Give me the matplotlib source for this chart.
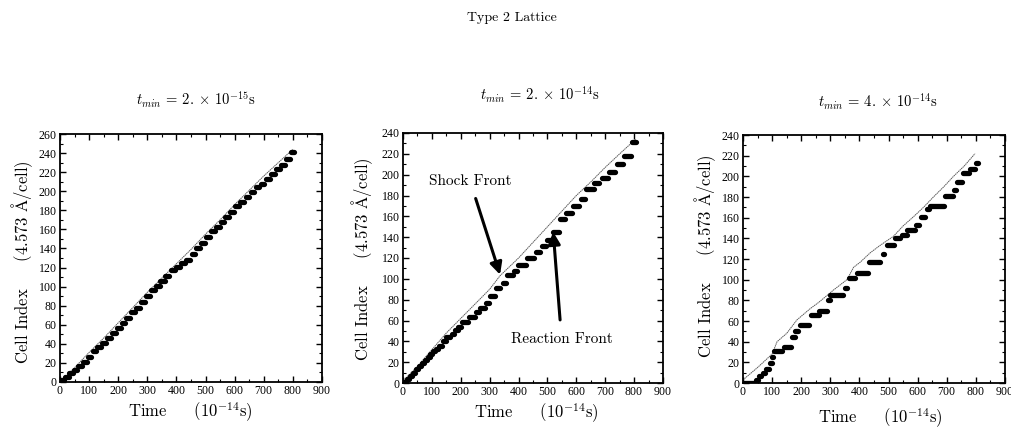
import matplotlib
matplotlib.use("Agg")
import matplotlib.pyplot as plt
from matplotlib.ticker import MultipleLocator

plt.rcParams['font.family'] = 'cmr10'
plt.rcParams['mathtext.fontset'] = 'cm'
plt.rcParams['axes.formatter.use_mathtext'] = True

# shock front: (time, cell)
shock1_t = [0, 50, 100, 150, 200, 250, 300, 350, 400, 450, 500, 550, 600, 650, 700, 750, 800]
shock1_y = [0, 15, 31, 46, 62, 78, 94, 109, 124, 139, 155, 170, 186, 201, 216, 230, 244]

shock2_t = [0, 50, 100, 150, 200, 250, 300, 336, 400, 450, 500, 550, 600, 650, 700, 750, 805]
shock2_y = [2, 16, 32, 48, 62, 76, 90, 103, 120, 135, 150, 165, 180, 193, 207, 220, 234]

shock3_t = [0, 50, 100, 117, 150, 185, 231, 260, 311, 357, 380, 403, 437, 470, 517, 550, 586,
            620, 654, 690, 723, 760, 797]
shock3_y = [3, 15, 28, 40, 48, 61, 72, 78, 90, 100, 112, 117, 126, 133, 142, 152, 161,
            170, 180, 190, 200, 210, 222]

# reaction front: cell index held from t_start to t_end
react1_t0 = [5, 18, 32, 48, 62, 80, 95, 112, 128, 145, 160, 178, 195, 212, 228, 245, 262, 278,
             295, 312, 330, 345, 362, 380, 398, 415, 432, 452, 468, 485, 502, 518, 535, 552,
             568, 585, 602, 620, 638, 655, 672, 690, 708, 725, 742, 760, 778, 795]
react1_t1 = [15, 30, 45, 60, 75, 92, 108, 125, 142, 158, 175, 192, 208, 225, 242, 258, 275, 292,
             308, 325, 342, 360, 375, 395, 412, 430, 448, 465, 482, 498, 515, 532, 548, 565,
             582, 598, 615, 632, 650, 668, 685, 702, 720, 738, 755, 772, 790, 803]
react1_y = [2, 5, 9, 13, 17, 21, 26, 32, 37, 41, 46, 51, 57, 62, 67, 73, 78, 84,
            90, 96, 101, 106, 111, 117, 121, 125, 128, 134, 140, 146, 152, 158, 163, 168,
            173, 178, 184, 189, 194, 199, 204, 208, 213, 218, 223, 228, 234, 241]

react2_t0 = [5, 15, 25, 35, 45, 55, 65, 75, 85, 95, 105, 115, 125, 138, 150, 168, 180, 192,
             205, 230, 252, 265, 288, 300, 322, 345, 360, 385, 398, 430, 460, 480, 500, 520,
             545, 565, 590, 615, 635, 660, 690, 712, 740, 765, 792]
react2_t1 = [12, 22, 32, 42, 52, 62, 72, 82, 92, 102, 112, 122, 135, 148, 162, 178, 190, 202,
             225, 248, 262, 285, 296, 320, 336, 355, 380, 395, 425, 455, 475, 495, 515, 540,
             560, 585, 610, 630, 660, 680, 710, 735, 760, 790, 808]
react2_y = [1, 4, 7, 10, 13, 16, 19, 22, 25, 28, 31, 33, 36, 40, 44, 47, 51, 54,
            59, 63, 68, 72, 77, 84, 91, 96, 104, 108, 113, 120, 126, 132, 137, 145,
            157, 163, 170, 177, 186, 192, 197, 203, 210, 218, 231]

react3_t0 = [0, 45, 55, 68, 80, 92, 100, 105, 140, 170, 180, 195, 235, 262, 292, 300, 350, 365,
             390, 432, 480, 495, 523, 545, 565, 595, 612, 632, 643, 695, 726, 735, 757, 780, 800]
react3_t1 = [40, 50, 62, 75, 88, 98, 104, 135, 165, 178, 190, 225, 260, 288, 298, 345, 356, 385,
             428, 470, 486, 520, 540, 562, 590, 605, 626, 638, 690, 722, 732, 752, 775, 797, 806]
react3_y = [0, 3, 7, 10, 14, 19, 25, 31, 35, 45, 50, 56, 66, 70, 80, 85, 92, 102,
            106, 117, 125, 134, 140, 143, 148, 153, 161, 168, 171, 181, 187, 195, 203, 207, 213]

titles = [r'$t_{min}$ = 2. $\times$ 10$^{-15}$s',
          r'$t_{min}$ = 2. $\times$ 10$^{-14}$s',
          r'$t_{min}$ = 4. $\times$ 10$^{-14}$s']
ymax = [260, 240, 240]

fig = plt.figure(figsize=(10.11, 4.29), dpi=100)
W, H = 1011.0, 429.0

# axes boxes in pixels: left, right, top, bottom
boxes = [(60, 322, 134, 382), (403, 663, 133, 383), (743, 1005, 135, 383)]
title_pos = [(196, 100), (540, 95), (878, 102)]
xlab_pos = [(190, 412), (536, 413), (880, 418)]
ylab_pos = [(22, 262), (362, 259), (705, 256)]

shocks = [(shock1_t, shock1_y), (shock2_t, shock2_y), (shock3_t, shock3_y)]
reacts = [(react1_t0, react1_t1, react1_y), (react2_t0, react2_t1, react2_y),
          (react3_t0, react3_t1, react3_y)]

axes = []
for i in range(3):
    l, r, t, b = boxes[i]
    ax = fig.add_axes([l / W, 1 - b / H, (r - l) / W, (b - t) / H])
    axes.append(ax)

    st, sy = shocks[i]
    ax.plot(st, sy, color='0.35', lw=0.7, ls=(0, (1.5, 0.6)))
    t0, t1, ry = reacts[i]
    for j in range(len(ry)):
        ax.plot([t0[j], t1[j]], [ry[j], ry[j]], color='black', lw=3.8,
                solid_capstyle='round')

    ax.set_xlim(0, 900)
    ax.set_ylim(0, ymax[i])
    ax.xaxis.set_major_locator(MultipleLocator(100))
    ax.xaxis.set_minor_locator(MultipleLocator(50))
    ax.yaxis.set_major_locator(MultipleLocator(20))
    ax.yaxis.set_minor_locator(MultipleLocator(10))
    ax.tick_params(which='both', direction='in', top=True, right=True, pad=2)
    ax.tick_params(which='major', length=4, width=1)
    ax.tick_params(which='minor', length=2, width=0.8)
    for lab in ax.get_xticklabels() + ax.get_yticklabels():
        lab.set_family('Liberation Serif')
        lab.set_fontsize(8.5)
    for s in ax.spines.values():
        s.set_linewidth(1.3)

    fig.text(title_pos[i][0] / W, 1 - title_pos[i][1] / H, titles[i],
             ha='center', va='center', fontsize=10.5)
    fig.text(xlab_pos[i][0] / W, 1 - xlab_pos[i][1] / H,
             r'Time     (10$^{-14}$s)', ha='center', va='center', fontsize=12)
    fig.text(ylab_pos[i][0] / W, 1 - ylab_pos[i][1] / H,
             r'Cell Index     (4.573 $\mathrm{\AA}$/cell)', ha='center', va='center',
             rotation=90, fontsize=12)

fig.text(512 / W, 1 - 18 / H, 'Type 2 Lattice', ha='center', va='center', fontsize=10)

# arrows in the middle panel
ax = axes[1]
ax.annotate('Shock Front', xy=(336, 104), xytext=(232, 194), ha='center', va='center',
            fontsize=11,
            arrowprops=dict(arrowstyle='-|>', color='black', lw=2.2, mutation_scale=18,
                            shrinkA=6, shrinkB=0))
ax.annotate('Reaction Front', xy=(520, 145), xytext=(549, 42), ha='center', va='center',
            fontsize=11,
            arrowprops=dict(arrowstyle='-|>', color='black', lw=2.2, mutation_scale=18,
                            shrinkA=7, shrinkB=0))

fig.savefig('out.png', dpi=100)
